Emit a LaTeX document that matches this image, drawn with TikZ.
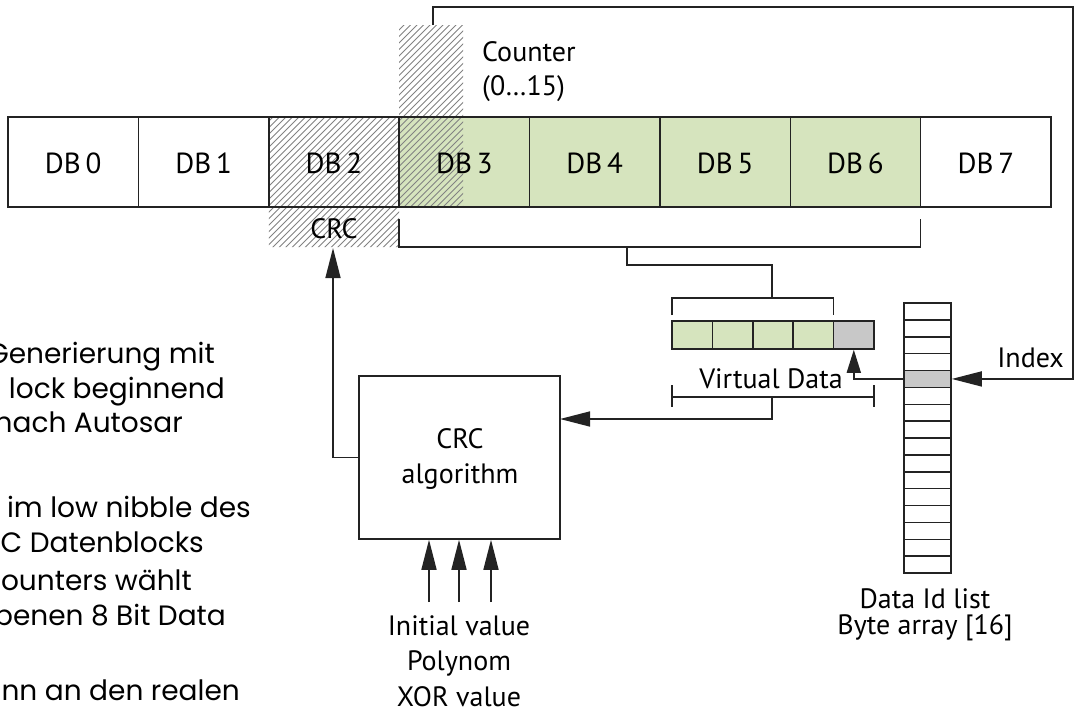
\documentclass[tikz,border=0pt]{standalone}
\usepackage{fontspec}
\newfontfamily\dfont{PT Sans}
\newfontfamily\gfont{Poppins}
\usetikzlibrary{arrows.meta}
\definecolor{cellgreen}{RGB}{214,228,190}
\definecolor{cellgray}{RGB}{200,200,200}
\definecolor{ink}{RGB}{35,35,35}
\definecolor{hatchc}{RGB}{130,130,130}
\tikzset{
  cell/.style={draw=ink, line width=1.5pt, minimum width=130.375pt, minimum height=90pt, inner sep=0pt, font=\dfont\fontsize{29}{30}\selectfont},
  vcell/.style={draw=ink, line width=1.5pt, minimum width=40.4pt, minimum height=28pt, inner sep=0pt},
  bcell/.style={draw=ink, line width=1.5pt, minimum width=47pt, minimum height=16.875pt, inner sep=0pt},
  lbl/.style={font=\dfont\fontsize{28}{34}\selectfont, inner sep=0pt, text=black},
  blbl/.style={lbl, anchor=base},
  gtext/.style={font=\gfont\fontsize{28}{35}\selectfont, inner sep=0pt, anchor=base east, text=black},
  conn/.style={draw=ink, line width=1.5pt},
  arr/.style={conn, -{Triangle[length=30pt,width=15pt]}},
  sarr/.style={conn, -{Triangle[length=23pt,width=14pt]}},
}
\begin{document}
\begin{tikzpicture}[x=1pt,y=-1pt]
\useasboundingbox (0,0) rectangle (1078,712);
\fill[white] (0,0) rectangle (1078,712);
% green fills
\fill[cellgreen] (399.125,117) rectangle (920.625,207);
% hatching
\begin{scope}
  \clip (268.75,117) rectangle (399.125,247) (399.125,25) rectangle (463,207);
  \foreach \k in {0,6.5,...,480} \draw[hatchc, line width=0.8pt] (\k,260) -- (\k+260,0);
\end{scope}
% data blocks
\foreach \i in {0,...,7} \node[cell] (db\i) at ({8+130.375*\i+65.1875},162) {};
\foreach \i in {0,...,7} \node[blbl, font=\dfont\fontsize{29}{30}\selectfont] (dbl\i) at (db\i.center |- 0,173) {DB\,\i};
\node[blbl] (crc) at (334,238) {CRC};
\node[blbl, anchor=base west] (counter) at (482,61) {Counter};
\node[blbl, anchor=base west] (counterr) at (482,95) {(0…15)};
% counter line to index
\coordinate (ctop) at (433,25);
\coordinate (cright) at (1073,7);
% bracket under DB3..DB6
\coordinate (bra) at (399.125,219);
\coordinate (brb) at (920.625,219);
\draw[conn] (bra) -- (399.125,247) -- (920.625,247) -- (brb);
\coordinate (brm) at (627,247);
% virtual data
\foreach \j in {0,...,4} \node[vcell, fill=cellgreen] (v\j) at ({672+40.4*\j+20.2},335) {};
\node[vcell, fill=cellgray] at (v4) {};
\draw[conn] (672,315) -- (672,298) -- (833.6,298) -- (833.6,315);
\coordinate (vtop) at (772,298);
\draw[conn] (brm) -- (627,265) -| (vtop);
\node[blbl] (vdata) at (771,388) {Virtual Data};
\draw[conn] (672,385) -- (672,407) (874,385) -- (874,407) (672,397) -- (874,397);
\coordinate (vbot) at (772,397);
% byte array
\foreach \i in {0,...,15} \node[bcell] (b\i) at (927.5,{303+16.875*\i+8.4375}) {};
\node[bcell, fill=cellgray] at (b4) {};
\node[blbl] (dil1) at (925,608) {Data Id list};
\node[blbl] (dil2) at (925,634) {Byte array [16]};
\node[blbl, anchor=base east] (index) at (1064,367) {Index};
\draw[arr] (ctop) |- (cright) |- (b4.east);
\draw[sarr] (b4.west) -| (v4.south);
% CRC algorithm
\node[draw=ink, line width=1.5pt, minimum width=201pt, minimum height=163pt, inner sep=0pt] (alg) at (459.5,457.5) {};
\node[blbl] (alg1) at (460,448) {CRC};
\node[blbl] (alg2) at (460,483) {algorithm};
\coordinate (ain) at (560,419);
\draw[arr] (vbot) |- (ain);
\coordinate (crctip) at (333,248);
\draw[arr] (alg.west) -| (crctip);
\coordinate (i1) at (429,602);
\coordinate (i2) at (459,602);
\coordinate (i3) at (491,602);
\foreach \c in {i1,i2,i3} \draw[arr] (\c) -- (\c |- alg.south);
\node[blbl] (in1) at (459,635) {Initial value};
\node[blbl] (in2) at (459,670) {Polynom};
\node[blbl] (in3) at (459,706) {XOR value};
% left text (cut at the left edge)
\begin{scope}
  \clip (0,0) rectangle (1078,712);
  \node[gtext] (t1) at (215,363) {Generierung mit};
  \node[gtext] (t2) at (225,398) {lock beginnend};
  \node[gtext] (t3) at (183,432) {nach Autosar};
  \node[gtext] (t4) at (251,517) {im low nibble des};
  \node[gtext] (t5) at (204,552) {C Datenblocks};
  \node[gtext] (t6) at (192,590) {ounters wählt};
  \node[gtext] (t7) at (226,625) {benen 8 Bit Data};
  \node[gtext] (t8) at (240,700) {nn an den realen};
\end{scope}
\end{tikzpicture}
\end{document}
